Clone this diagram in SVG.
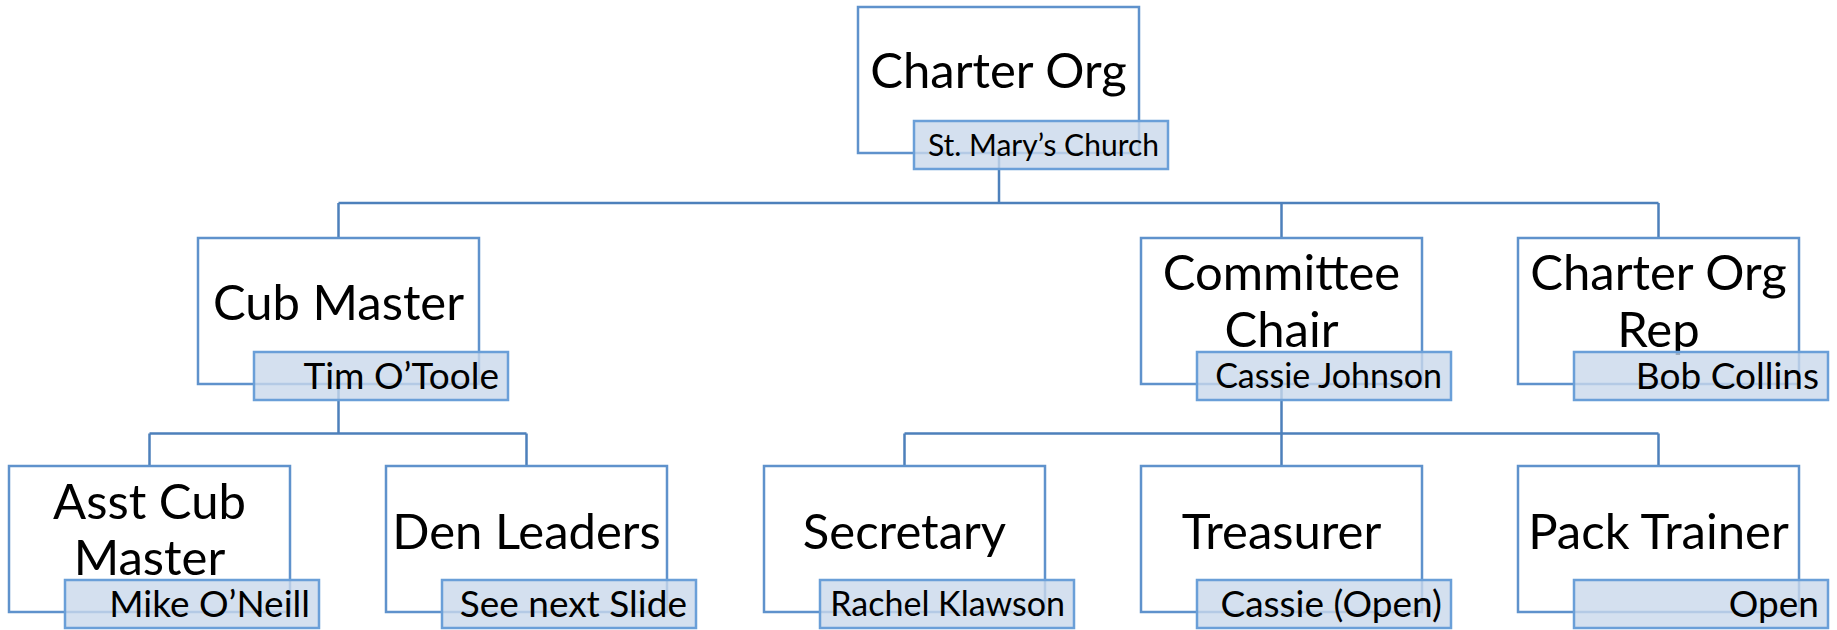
<svg xmlns="http://www.w3.org/2000/svg" width="1837" height="630" viewBox="0 0 1837 630">
<style>
.box{fill:#ffffff;stroke:#5f92cc;stroke-width:2.5}
.lbl{fill:#c9d8eb;fill-opacity:0.8;stroke:#6a9fd8;stroke-width:2.5}
.con{fill:none;stroke:#4d80bb;stroke-width:2.5}
.t{font-family:Lato,"Open Sans",sans-serif;font-size:49px;fill:#000;text-anchor:middle}
.n{font-family:Lato,"Open Sans",sans-serif;font-size:37px;fill:#000;text-anchor:end}
.s34{font-size:34px}
.s30{font-size:30px}
</style>
<rect width="1837" height="630" fill="#ffffff"/>
<g id="connectors">
<path class="con" d="M999 153V203M338.5 203H1658.5M338.5 203V238M1281.5 203V238M1658.5 203V238"/>
<path class="con" d="M338.5 384V433.5M149.5 433.5H526.5M149.5 433.5V466M526.5 433.5V466"/>
<path class="con" d="M1281.5 384V433.5M904.5 433.5H1658.5M904.5 433.5V466M1281.5 433.5V466M1658.5 433.5V466"/>
</g>
<g id="charter-org">
<rect class="box" x="858" y="7" width="281" height="146"/>
<text class="t" x="998.5" y="88">Charter Org</text>
<rect class="lbl" x="914" y="121" width="254" height="48"/>
<text class="n s30" x="1159" y="156">St. Mary’s Church</text>
</g>
<g id="cub-master">
<rect class="box" x="198" y="238" width="281" height="146"/>
<text class="t" x="338.5" y="320">Cub Master</text>
<rect class="lbl" x="254" y="352" width="254" height="48"/>
<text class="n" x="499" y="389">Tim O’Toole</text>
</g>
<g id="committee-chair">
<rect class="box" x="1141" y="238" width="281" height="146"/>
<text class="t" x="1281.5" y="290">Committee</text>
<text class="t" x="1281.5" y="347">Chair</text>
<rect class="lbl" x="1197" y="352" width="254" height="48"/>
<text class="n s34" x="1442" y="388">Cassie Johnson</text>
</g>
<g id="charter-org-rep">
<rect class="box" x="1518" y="238" width="281" height="146"/>
<text class="t" x="1658.5" y="290">Charter Org</text>
<text class="t" x="1658.5" y="347">Rep</text>
<rect class="lbl" x="1574" y="352" width="254" height="48"/>
<text class="n" x="1819" y="389">Bob Collins</text>
</g>
<g id="asst-cub-master">
<rect class="box" x="9" y="466" width="281" height="146"/>
<text class="t" x="149.5" y="519">Asst Cub</text>
<text class="t" x="149.5" y="575">Master</text>
<rect class="lbl" x="65" y="580" width="254" height="48"/>
<text class="n" x="310" y="617">Mike O’Neill</text>
</g>
<g id="den-leaders">
<rect class="box" x="386" y="466" width="281" height="146"/>
<text class="t" x="526.5" y="549">Den Leaders</text>
<rect class="lbl" x="442" y="580" width="254" height="48"/>
<text class="n" x="687" y="617">See next Slide</text>
</g>
<g id="secretary">
<rect class="box" x="764" y="466" width="281" height="146"/>
<text class="t" x="904.5" y="549">Secretary</text>
<rect class="lbl" x="820" y="580" width="254" height="48"/>
<text class="n s34" x="1065" y="616">Rachel Klawson</text>
</g>
<g id="treasurer">
<rect class="box" x="1141" y="466" width="281" height="146"/>
<text class="t" x="1281.5" y="549">Treasurer</text>
<rect class="lbl" x="1197" y="580" width="254" height="48"/>
<text class="n" x="1442" y="617">Cassie (Open)</text>
</g>
<g id="pack-trainer">
<rect class="box" x="1518" y="466" width="281" height="146"/>
<text class="t" x="1658.5" y="549">Pack Trainer</text>
<rect class="lbl" x="1574" y="580" width="254" height="48"/>
<text class="n" x="1819" y="617">Open</text>
</g>
</svg>
